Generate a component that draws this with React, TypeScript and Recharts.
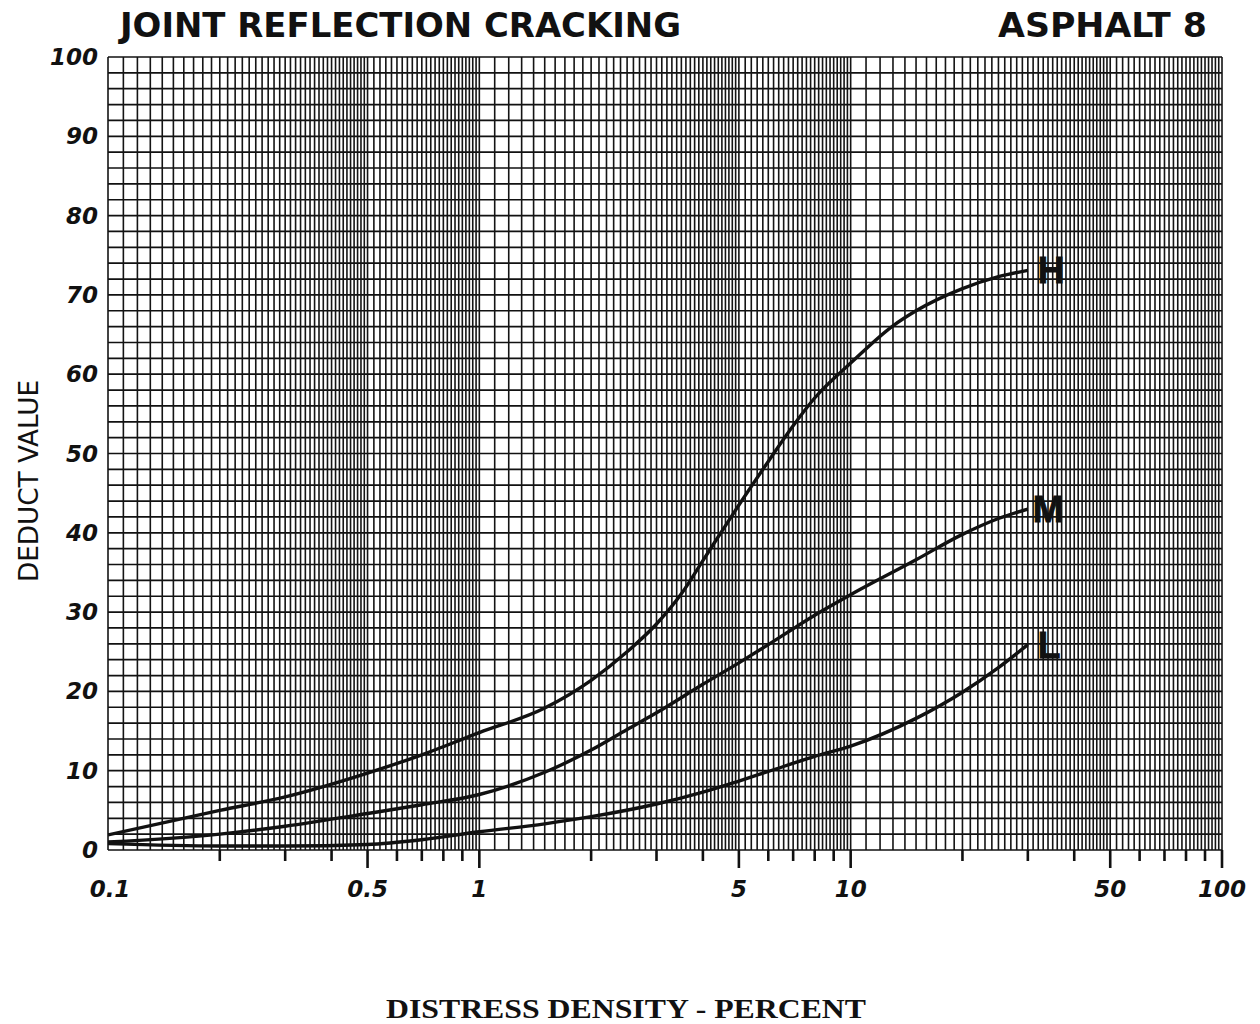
import React from 'react';
import { LineChart, Line, XAxis, YAxis, CartesianGrid } from 'recharts';

// ---- Data ----
const X_H = [0.1, 0.2, 0.3, 0.5, 0.7, 1, 1.5, 2, 2.5, 3, 3.5, 4, 4.4, 5, 6, 7, 8, 10, 13, 15, 20, 25, 30];
const Y_H = [1.9, 5.0, 6.7, 9.7, 12.0, 14.8, 17.9, 21.4, 25.0, 28.5, 32.3, 36.5, 39.5, 43.5, 49.0, 53.5, 57.0, 61.4, 66.1, 68.0, 70.8, 72.3, 73.1];

const X_M = [0.1, 0.2, 0.3, 0.5, 0.7, 1, 1.5, 2, 2.5, 3, 4, 5, 6, 7, 8, 10, 15, 20, 25, 30];
const Y_M = [1.0, 2.0, 3.0, 4.6, 5.7, 7.0, 9.8, 12.6, 15.2, 17.3, 20.9, 23.6, 25.9, 27.9, 29.6, 32.2, 36.6, 39.8, 41.8, 43.0];

const X_L = [0.1, 0.2, 0.3, 0.5, 0.7, 1, 1.5, 2, 3, 4, 5, 6, 8, 10, 15, 20, 25, 30];
const Y_L = [0.8, 0.5, 0.5, 0.7, 1.3, 2.3, 3.3, 4.2, 5.8, 7.3, 8.7, 9.9, 11.8, 13.1, 16.6, 19.9, 23.0, 25.9];

const SERIES_NAMES = ['H', 'M', 'L'];

const X_LABEL_TICKS = [0.1, 0.5, 1, 5, 10, 50, 100];
const Y_LABEL_TICKS = [0, 10, 20, 30, 40, 50, 60, 70, 80, 90, 100];

const TITLE = 'JOINT REFLECTION CRACKING';
const SUBTITLE = 'ASPHALT 8';
const Y_TITLE = 'DEDUCT VALUE';
const X_TITLE = 'DISTRESS DENSITY - PERCENT';

// ---- Grid line values (log paper) ----
const DECADES = [0.1, 1, 10];
function buildXGrid(): number[] {
  const out: number[] = [];
  for (const d of DECADES) {
    for (let i = 10; i < 50; i += 1) out.push(+((i / 10) * d).toFixed(5));
    for (let i = 50; i < 100; i += 2) out.push(+((i / 10) * d).toFixed(5));
  }
  out.push(100);
  return out;
}
const X_GRID = buildXGrid();
const Y_GRID: number[] = [];
for (let v = 0; v <= 100; v += 2) Y_GRID.push(v);

const zip = (xs: number[], ys: number[]) => xs.map((x, i) => ({ x, y: ys[i] }));
const DATA_H = zip(X_H, Y_H);
const DATA_M = zip(X_M, Y_M);
const DATA_L = zip(X_L, Y_L);

const TICK_FONT = "'DejaVu Sans', 'Liberation Sans', sans-serif";

const XTick = (props: any) => {
  const { x, y, payload } = props;
  const v = payload.value as number;
  const decade = Math.pow(10, Math.floor(Math.log10(v) + 1e-9));
  const m = v / decade;
  const isInt = Math.abs(m - Math.round(m)) < 1e-6;
  const label = X_LABEL_TICKS.some((t) => Math.abs(t - v) < 1e-6);
  const major = isInt && (Math.round(m) === 1 || Math.round(m) === 5);
  const showMark = isInt && v > 0.1001;
  return (
    <g>
      {showMark && (
        <line x1={x} x2={x} y1={y} y2={y + (major ? 18 : 11)} stroke="#111" strokeWidth={2.6} />
      )}
      {label && (
        <text
          x={x + (v === 0.1 ? 2 : 0)}
          y={y + 47}
          textAnchor="middle"
          fontFamily={TICK_FONT}
          fontWeight="bold"
          fontStyle="italic"
          fontSize={23}
          fill="#111"
        >
          {v}
        </text>
      )}
    </g>
  );
};

const YTick = (props: any) => {
  const { x, y, payload } = props;
  const v = payload.value as number;
  if (!Y_LABEL_TICKS.includes(v)) return <g />;
  return (
    <text
      x={x - 10}
      y={y + 8}
      textAnchor="end"
      fontFamily={TICK_FONT}
      fontWeight="bold"
      fontStyle="italic"
      fontSize={23}
      fill="#111"
    >
      {v}
    </text>
  );
};

const makeEndLabel = (name: string, len: number, dx: number) => (props: any) => {
  const { x, y, index } = props;
  if (index !== len - 1) return <g key={`l-${name}-${index}`} />;
  return (
    <text
      key={`l-${name}-${index}`}
      x={x + dx}
      y={y + 13}
      fontFamily="'Liberation Sans', Arial, sans-serif"
      fontWeight="bold"
      fontSize={37}
      fill="#111"
      stroke="#111"
      strokeWidth={1}
    >
      {name}
    </text>
  );
};

export default function App() {
  return (
    <div style={{ position: 'absolute', left: 0, top: 0, width: 1260, height: 1024, background: '#fff' }}>
      <LineChart
        width={1260}
        height={1024}
        margin={{ top: 57, right: 38, bottom: 114, left: 48 }}
      >
        <CartesianGrid stroke="#111" strokeWidth={1.7} vertical={false} />
        <CartesianGrid stroke="#141414" strokeWidth={1.6} horizontal={false} />
        <XAxis
          dataKey="x"
          type="number"
          scale="log"
          domain={[0.1, 100]}
          ticks={X_GRID}
          interval={0}
          allowDataOverflow
          axisLine={false}
          tickLine={false}
          tickSize={0}
          tickMargin={0}
          height={60}
          tick={<XTick />}
        />
        <YAxis
          type="number"
          domain={[0, 100]}
          ticks={Y_GRID}
          interval={0}
          axisLine={false}
          tickLine={false}
          tickSize={0}
          tickMargin={0}
          width={60}
          tick={<YTick />}
        />
        <Line
          data={DATA_H}
          dataKey="y"
          type="monotone"
          stroke="#111"
          strokeWidth={3.4}
          dot={false}
          isAnimationActive={false}
          label={makeEndLabel(SERIES_NAMES[0], DATA_H.length, 10)}
        />
        <Line
          data={DATA_M}
          dataKey="y"
          type="monotone"
          stroke="#111"
          strokeWidth={3.4}
          dot={false}
          isAnimationActive={false}
          label={makeEndLabel(SERIES_NAMES[1], DATA_M.length, 5)}
        />
        <Line
          data={DATA_L}
          dataKey="y"
          type="monotone"
          stroke="#111"
          strokeWidth={3.4}
          dot={false}
          isAnimationActive={false}
          label={makeEndLabel(SERIES_NAMES[2], DATA_L.length, 10)}
        />
      </LineChart>
      <svg
        width={1260}
        height={1024}
        style={{ position: 'absolute', left: 0, top: 0, pointerEvents: 'none' }}
      >
        <text
          x={120}
          y={37}
          textLength={561}
          lengthAdjust="spacingAndGlyphs"
          fontFamily="'Liberation Sans Narrow', 'DejaVu Sans Condensed', 'Liberation Sans', sans-serif"
          fontWeight="bold"
          fontSize={34}
          fill="#111"
        >
          {TITLE}
        </text>
        <text
          x={998}
          y={37}
          textLength={209}
          lengthAdjust="spacingAndGlyphs"
          fontFamily="'Liberation Sans Narrow', 'DejaVu Sans Condensed', 'Liberation Sans', sans-serif"
          fontWeight="bold"
          fontSize={34}
          fill="#111"
        >
          {SUBTITLE}
        </text>
        <text
          transform="translate(38,582) rotate(-90)"
          x={0}
          y={0}
          textLength={202}
          lengthAdjust="spacingAndGlyphs"
          fontFamily="'Liberation Sans Narrow', 'DejaVu Sans Condensed', 'Liberation Sans', sans-serif"
          fontSize={27}
          fill="#111"
        >
          {Y_TITLE}
        </text>
        <text
          x={386}
          y={1018}
          textLength={480}
          lengthAdjust="spacingAndGlyphs"
          fontFamily="'Liberation Serif', 'Times New Roman', serif"
          fontWeight="bold"
          fontSize={27}
          fill="#111"
        >
          {X_TITLE}
        </text>
      </svg>
    </div>
  );
}
